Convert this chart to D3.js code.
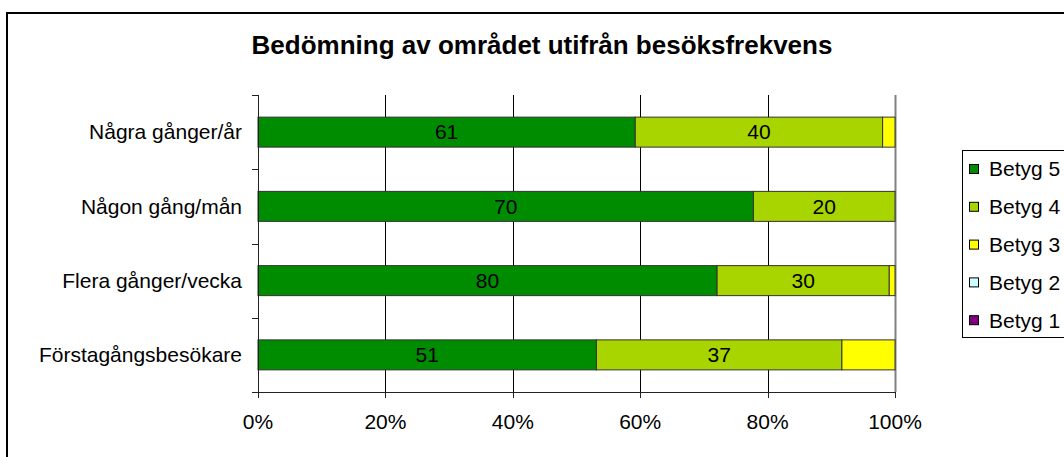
<!DOCTYPE html>
<html>
<head>
<meta charset="utf-8">
<script src="https://cdn.jsdelivr.net/npm/d3@7"></script>
<style>
  body { margin: 0; background: #fff; }
  svg { display: block; font-family: "Liberation Sans", Arial, sans-serif; }
</style>
</head>
<body>
<div id="chart"></div>
<script>
const categories = ["Några gånger/år", "Någon gång/mån", "Flera gånger/vecka", "Förstagångsbesökare"];
const seriesNames = ["Betyg 5", "Betyg 4", "Betyg 3", "Betyg 2", "Betyg 1"];
const betyg5 = [61, 70, 80, 51];
const betyg4 = [40, 20, 30, 37];
const betyg3 = [2, 0, 1, 8];
const betyg2 = [0, 0, 0, 0];
const betyg1 = [0, 0, 0, 0];
const xTicks = [0, 0.2, 0.4, 0.6, 0.8, 1];
const colors = ["#008c00", "#a8d400", "#ffff00", "#ccffff", "#800080"];
const labelled = ["Betyg 5", "Betyg 4"];

const width = 1064, height = 457;

const rows = categories.map((c, i) => ({
    cat: c,
    "Betyg 5": betyg5[i],
    "Betyg 4": betyg4[i],
    "Betyg 3": betyg3[i],
    "Betyg 2": betyg2[i],
    "Betyg 1": betyg1[i]
}));

const stack = d3.stack().keys(seriesNames).offset(d3.stackOffsetExpand);
const layers = stack(rows);

const x = d3.scaleLinear().domain([0, 1]).range([258, 895]);
const y = d3.scaleBand().domain(categories).range([95, 392])
            .paddingInner(0.596).paddingOuter(0.298);
const color = d3.scaleOrdinal().domain(seriesNames).range(colors);

const svg = d3.select("#chart").append("svg")
              .attr("width", width).attr("height", height);

// chart area border
svg.append("rect")
   .attr("x", 7).attr("y", 13)
   .attr("width", 1200).attr("height", 600)
   .attr("fill", "#fff").attr("stroke", "#000")
   .attr("stroke-width", 2);

svg.append("text")
   .attr("x", 542).attr("y", 54)
   .attr("text-anchor", "middle")
   .attr("font-size", 26).attr("font-weight", "bold")
   .text("Bedömning av området utifrån besöksfrekvens");

// gridlines
svg.append("g")
   .selectAll("line")
   .data(xTicks.slice(1))
   .join("line")
   .attr("x1", d => Math.round(x(d)) + 0.5).attr("x2", d => Math.round(x(d)) + 0.5)
   .attr("y1", 95).attr("y2", 392)
   .attr("stroke", d => d === 1 ? "#808080" : "#000")
   .attr("stroke-width", d => d === 1 ? 2 : 1);

// bars
const layerG = svg.append("g")
   .selectAll("g")
   .data(layers)
   .join("g")
   .attr("fill", d => color(d.key));

layerG.selectAll("rect")
   .data(d => d.filter(s => s[1] - s[0] > 0))
   .join("rect")
   .attr("x", d => x(d[0]))
   .attr("y", d => y(d.data.cat))
   .attr("width", d => x(d[1]) - x(d[0]))
   .attr("height", y.bandwidth())
   .attr("stroke", "#333")
   .attr("stroke-width", 1);

// data labels
svg.append("g")
   .selectAll("g")
   .data(layers.filter(l => labelled.includes(l.key)))
   .join("g")
   .selectAll("text")
   .data(d => d.map(s => ({s, key: d.key})))
   .join("text")
   .attr("x", d => (x(d.s[0]) + x(d.s[1])) / 2)
   .attr("y", d => y(d.s.data.cat) + y.bandwidth() / 2)
   .attr("dy", "0.35em")
   .attr("text-anchor", "middle")
   .attr("font-size", 21)
   .text(d => d.s.data[d.key]);

// left axis
const yAxis = svg.append("g");
yAxis.append("line")
     .attr("x1", 258.5).attr("x2", 258.5).attr("y1", 95).attr("y2", 393)
     .attr("stroke", "#222");
yAxis.selectAll("line.tick")
     .data(d3.range(categories.length + 1))
     .join("line").attr("class", "tick")
     .attr("x1", 252).attr("x2", 258)
     .attr("y1", i => Math.round(95 + i * y.step()) + 0.5)
     .attr("y2", i => Math.round(95 + i * y.step()) + 0.5)
     .attr("stroke", "#222");
yAxis.selectAll("text")
     .data(categories)
     .join("text")
     .attr("x", 242)
     .attr("y", d => y(d) + y.bandwidth() / 2)
     .attr("dy", "0.35em")
     .attr("text-anchor", "end")
     .attr("font-size", 21)
     .text(d => d);

// bottom axis
const xAxis = svg.append("g");
xAxis.append("line")
     .attr("x1", 252).attr("x2", 895).attr("y1", 392.5).attr("y2", 392.5)
     .attr("stroke", "#222");
xAxis.selectAll("line.tick")
     .data(xTicks)
     .join("line").attr("class", "tick")
     .attr("x1", d => Math.round(x(d)) + 0.5).attr("x2", d => Math.round(x(d)) + 0.5)
     .attr("y1", 392).attr("y2", 398)
     .attr("stroke", "#222");
xAxis.selectAll("text")
     .data(xTicks)
     .join("text")
     .attr("x", d => x(d))
     .attr("y", 422)
     .attr("dy", "0.35em")
     .attr("text-anchor", "middle")
     .attr("font-size", 21)
     .text(d3.format(".0%"));

// legend
const legend = svg.append("g");
legend.append("rect")
      .attr("x", 962.5).attr("y", 150.5)
      .attr("width", 200).attr("height", 187)
      .attr("fill", "#fff").attr("stroke", "#000");
const item = legend.selectAll("g")
      .data(seriesNames)
      .join("g")
      .attr("transform", (d, i) => `translate(0,${169 + i * 37.8})`);
item.append("rect")
    .attr("x", 969.5).attr("y", -4.5)
    .attr("width", 9).attr("height", 9)
    .attr("fill", d => color(d))
    .attr("stroke", "#000");
item.append("text")
    .attr("x", 989).attr("y", 0)
    .attr("dy", "0.35em")
    .attr("font-size", 21)
    .text(d => d);
</script>
</body>
</html>
